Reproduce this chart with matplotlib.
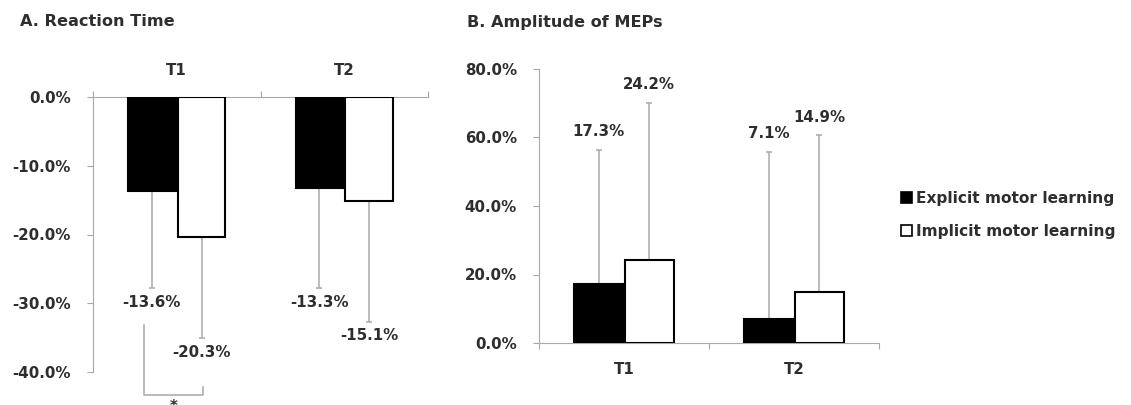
import matplotlib
matplotlib.use("Agg")
import matplotlib.pyplot as plt
from matplotlib.patches import Patch
import numpy as np

plt.rcParams['font.family'] = ['DejaVu Sans']

# ---- data ----
groups = ["Explicit motor learning", "Implicit motor learning"]
timepoints = ["T1", "T2"]

rt_mean = {"Explicit motor learning": [-13.6, -13.3],
           "Implicit motor learning": [-20.3, -15.1]}
rt_sd = {"Explicit motor learning": [14.2, 14.5],
         "Implicit motor learning": [14.8, 17.6]}

mep_mean = {"Explicit motor learning": [17.3, 7.1],
            "Implicit motor learning": [24.2, 14.9]}
mep_sd = {"Explicit motor learning": [39.1, 48.7],
          "Implicit motor learning": [45.9, 45.8]}

rt_ticks = [0, -10, -20, -30, -40]
mep_ticks = [0, 20, 40, 60, 80]

# ---- style ----
TXT = '#2e2e2e'
SPINE = '#a8a8a8'
ERR = '#a8a8a8'
FS = 10.8       # numbers
FST = 11.6      # titles
FSL = 11.1      # legend
face = {"Explicit motor learning": 'black', "Implicit motor learning": 'white'}

W, H = 1131, 405
fig = plt.figure(figsize=(W / 100, H / 100), dpi=100)

def rect(l, r, t, b):
    return [l / W, 1 - b / H, (r - l) / W, (b - t) / H]

axA = fig.add_axes(rect(93, 428, 97, 372))
axB = fig.add_axes(rect(539, 879, 69, 343))

def style_axes(ax, top):
    for s in ax.spines.values():
        s.set_visible(False)
    ax.spines['left'].set_visible(True)
    ax.spines['left'].set_color(SPINE)
    side = 'top' if top else 'bottom'
    ax.spines[side].set_visible(True)
    ax.spines[side].set_color(SPINE)
    ax.set_xlim(0, 2)
    ax.set_xticks([0, 1, 2])
    ax.set_xticklabels([])
    ax.set_xticks([0.5, 1.5], minor=True)
    ax.set_xticklabels(timepoints, minor=True, fontsize=FS, fontweight='bold', color=TXT)
    if top:
        ax.xaxis.tick_top()
        ax.xaxis.set_ticks_position('top')
    ax.tick_params(axis='x', which='major', length=4, color=SPINE, direction='out')
    ax.tick_params(axis='x', which='minor', length=0, pad=14)
    ax.tick_params(axis='y', length=4, color=SPINE, direction='out', pad=12,
                   labelsize=FS, labelcolor=TXT)
    for lab in ax.get_yticklabels():
        lab.set_fontweight('bold')

x = np.arange(len(timepoints)) + 0.5

# ---- Panel A ----
wA = 0.285
for i, g in enumerate(groups):
    pos = x + (i - 0.5) * wA + (0.006 if i == 1 else -0.006)
    m = np.array(rt_mean[g]); s = np.array(rt_sd[g])
    axA.bar(pos, m, wA, color=face[g], edgecolor='black', linewidth=1.5, zorder=3)
    axA.vlines(pos, m, m - s, color=ERR, linewidth=1.1, zorder=2)
    axA.scatter(pos, m - s, marker='_', s=25, color=ERR, linewidths=1.1, zorder=2)
    for p, mm, ss in zip(pos, m, s):
        axA.annotate(f"{mm:.1f}%", (p, mm - ss), xytext=(0, -10), textcoords='offset points',
                     ha='center', va='center', fontsize=FS, fontweight='bold', color=TXT)
axA.set_ylim(-40, 0)
axA.set_yticks(rt_ticks)
axA.set_yticklabels([f"{t:.1f}%" for t in rt_ticks])
style_axes(axA, top=True)

# significance bracket
bx = [0.305, 0.305, 0.659, 0.659]
by = [-33.2, -43.3, -43.3, -42.2]
axA.plot(bx, by, color=ERR, linewidth=1.1, clip_on=False)
axA.text(0.48, -44.0, "*", ha='center', va='top', fontsize=FS, fontweight='bold',
         color=TXT, clip_on=False)

# ---- Panel B ----
wB = 0.29
for i, g in enumerate(groups):
    pos = x + (i - 0.5) * wB + (0.004 if i == 1 else -0.004)
    m = np.array(mep_mean[g]); s = np.array(mep_sd[g])
    axB.bar(pos, m, wB, color=face[g], edgecolor='black', linewidth=1.5, zorder=3)
    axB.vlines(pos, m, m + s, color=ERR, linewidth=1.1, zorder=2)
    axB.scatter(pos, m + s, marker='_', s=25, color=ERR, linewidths=1.1, zorder=2)
    for p, mm, ss in zip(pos, m, s):
        axB.annotate(f"{mm:.1f}%", (p, mm + ss), xytext=(0, 13), textcoords='offset points',
                     ha='center', va='center', fontsize=FS, fontweight='bold', color=TXT)
axB.set_ylim(0, 80)
axB.set_yticks(mep_ticks)
axB.set_yticklabels([f"{t:.1f}%" for t in mep_ticks])
style_axes(axB, top=False)

# ---- titles ----
fig.text(20 / W, 1 - 22 / H, "A. Reaction Time", ha='left', va='center',
         fontsize=FST, fontweight='bold', color=TXT)
fig.text(467 / W, 1 - 22 / H, "B. Amplitude of MEPs", ha='left', va='center',
         fontsize=FST, fontweight='bold', color=TXT)

# ---- legend ----
handles = [Patch(facecolor=face[g], edgecolor='black', linewidth=1.2) for g in groups]
leg = fig.legend(handles, groups, loc='center left', bbox_to_anchor=(901 / W, 1 - 215 / H),
                 frameon=False, handlelength=0.7, handleheight=0.7, handletextpad=0.3,
                 labelspacing=1.2, borderpad=0, borderaxespad=0,
                 prop={'size': FSL, 'weight': 'bold'})
for t in leg.get_texts():
    t.set_color(TXT)

fig.savefig("out.png", dpi=100)
